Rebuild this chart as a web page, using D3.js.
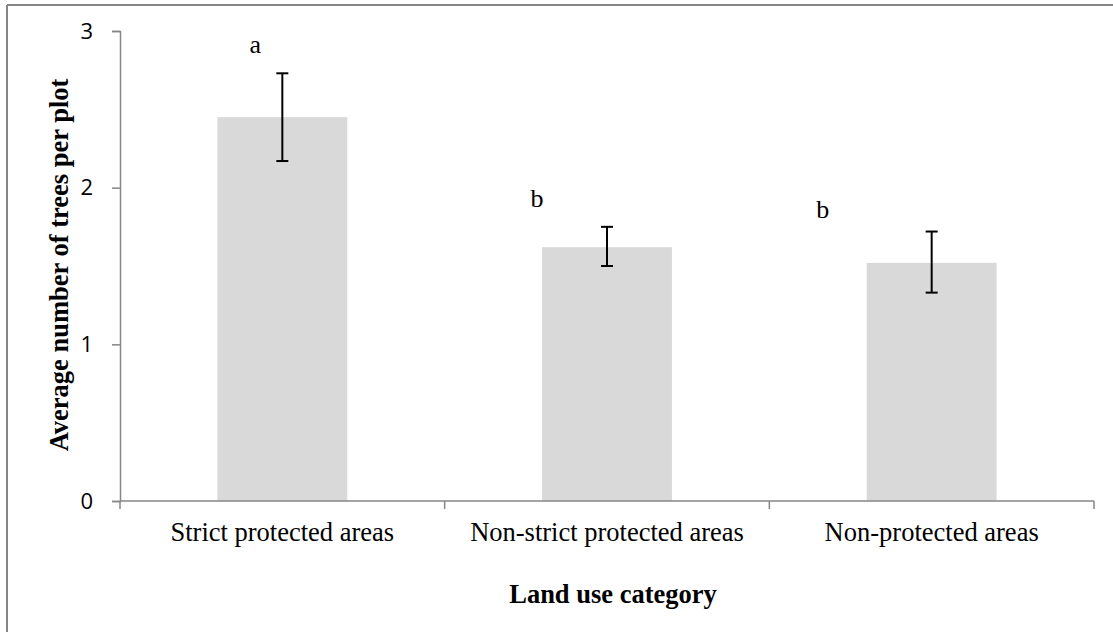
<!DOCTYPE html>
<html>
<head>
<meta charset="utf-8">
<script src="https://cdn.jsdelivr.net/npm/d3@7"></script>
<style>
  html, body { margin: 0; padding: 0; background: #fff; }
  svg { display: block; }
  .y-tick-label { font-family: 'Open Sans', 'Liberation Sans', sans-serif; font-size: 22px; }
</style>
</head>
<body>
<svg id="chart" width="1113" height="632"></svg>
<script>
// Mean trees per plot by land use, with standard-error bars and group letters
const categories = ["Strict protected areas", "Non-strict protected areas", "Non-protected areas"];
const means = [2.45, 1.62, 1.52];
const errLow = [2.17, 1.50, 1.33];
const errHigh = [2.73, 1.75, 1.72];
const groupLetters = ["a", "b", "b"];
const yTicks = [0, 1, 2, 3];

const svg = d3.select("#chart");
const W = 1113, H = 632;
const serif = "'Liberation Serif', 'Times New Roman', serif";

// outer frame (top and left edges)
svg.append("line").attr("x1", 7).attr("x2", W).attr("y1", 5).attr("y2", 5)
  .attr("stroke", "#868686").attr("stroke-width", 2);
svg.append("line").attr("x1", 7).attr("x2", 7).attr("y1", 5).attr("y2", H)
  .attr("stroke", "#868686").attr("stroke-width", 2);

const plot = { left: 120, right: 1094, top: 31, bottom: 501 };

const x = d3.scaleBand().domain(categories)
  .range([plot.left, plot.right]).paddingInner(0.6).paddingOuter(0.3);
const y = d3.scaleLinear().domain([0, 3]).range([plot.bottom, plot.top]);

const axisColor = "#868686";

// bars
svg.append("g").selectAll("rect").data(categories).join("rect")
  .attr("x", d => x(d))
  .attr("width", x.bandwidth())
  .attr("y", (d, i) => y(means[i]))
  .attr("height", (d, i) => y(0) - y(means[i]))
  .attr("fill", "#d9d9d9");

// y axis
const yAxis = svg.append("g").attr("transform", `translate(${plot.left},0)`)
  .call(d3.axisLeft(y).tickValues(yTicks).tickFormat(d3.format("d")).tickSize(8).tickPadding(19));
yAxis.attr("font-size", null).attr("font-family", null);
yAxis.select(".domain").attr("stroke", axisColor).attr("stroke-width", 1.5);
yAxis.selectAll(".tick line").attr("stroke", axisColor).attr("stroke-width", 1.5);
yAxis.selectAll(".tick text").attr("class", "y-tick-label").attr("fill", "#000");

// x axis with tick marks at category boundaries
svg.append("line").attr("x1", plot.left).attr("x2", plot.right)
  .attr("y1", plot.bottom).attr("y2", plot.bottom)
  .attr("stroke", axisColor).attr("stroke-width", 1.5);
const boundaries = d3.range(categories.length + 1)
  .map(i => plot.left + i * (plot.right - plot.left) / categories.length);
svg.append("g").selectAll("line").data(boundaries).join("line")
  .attr("x1", d => d).attr("x2", d => d)
  .attr("y1", plot.bottom).attr("y2", plot.bottom + 8)
  .attr("stroke", axisColor).attr("stroke-width", 1.5);

svg.append("g").selectAll("text").data(categories).join("text")
  .attr("x", d => x(d) + x.bandwidth() / 2)
  .attr("y", 541)
  .attr("text-anchor", "middle")
  .style("font-family", serif)
  .style("font-size", "26.5px")
  .attr("fill", "#000")
  .text(d => d);

// error bars
const eb = svg.append("g").attr("stroke", "#000").attr("stroke-width", 2);
categories.forEach((c, i) => {
  const cx = x(c) + x.bandwidth() / 2;
  eb.append("line").attr("x1", cx).attr("x2", cx).attr("y1", y(errLow[i])).attr("y2", y(errHigh[i]));
  eb.append("line").attr("x1", cx - 6).attr("x2", cx + 6).attr("y1", y(errLow[i])).attr("y2", y(errLow[i]));
  eb.append("line").attr("x1", cx - 6).attr("x2", cx + 6).attr("y1", y(errHigh[i])).attr("y2", y(errHigh[i]));
});

// significance letters, set above and to the left of each error bar
const letterDx = [-27, -70, -109];
const letterDy = [-20, -20, -14];
svg.append("g").selectAll("text").data(categories).join("text")
  .attr("x", (d, i) => x(d) + x.bandwidth() / 2 + letterDx[i])
  .attr("y", (d, i) => y(errHigh[i]) + letterDy[i])
  .attr("text-anchor", "middle")
  .style("font-family", serif)
  .style("font-size", "26px")
  .attr("fill", "#000")
  .text((d, i) => groupLetters[i]);

// axis titles
svg.append("text")
  .attr("x", 613).attr("y", 603)
  .attr("text-anchor", "middle")
  .style("font-family", serif)
  .style("font-weight", "bold").style("font-size", "26.5px")
  .text("Land use category");

svg.append("text")
  .attr("transform", "translate(68,265) rotate(-90)")
  .attr("text-anchor", "middle")
  .style("font-family", serif)
  .style("font-weight", "bold").style("font-size", "26.5px")
  .text("Average number of trees per plot");
</script>
</body>
</html>
